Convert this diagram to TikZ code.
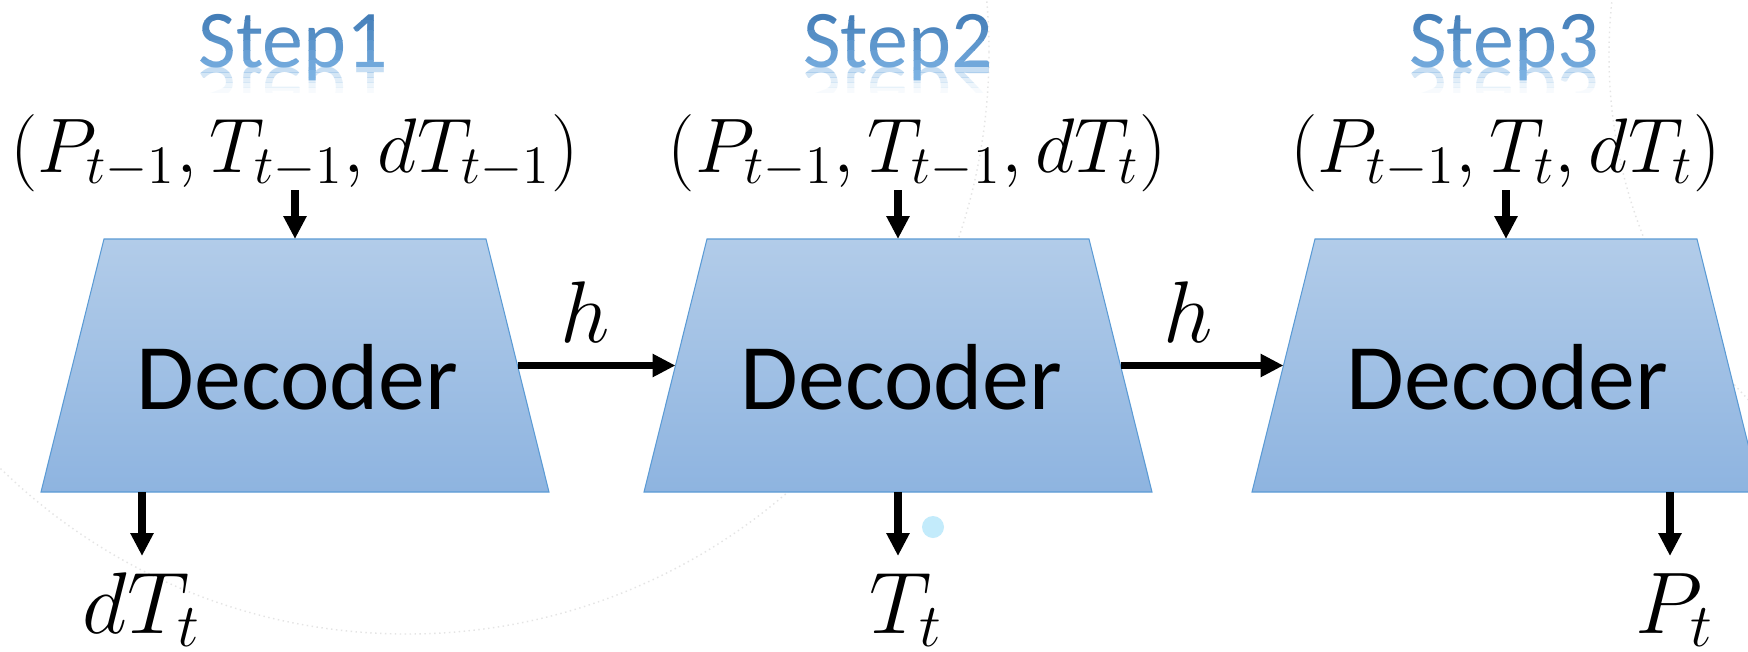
\RequirePackage{fix-cm}
\documentclass[tikz,border=0pt]{standalone}
\usepackage{fontspec}
\usepackage{graphicx}
\newfontfamily\calib{Carlito}
\usetikzlibrary{arrows.meta,calc}

\definecolor{dectop}{HTML}{B2CCE9}
\definecolor{decbot}{HTML}{8EB4E0}
\definecolor{decline}{HTML}{5B9BD5}
\definecolor{stepdark}{HTML}{3A74B0}
\definecolor{steplight}{HTML}{7BB2E3}
\definecolor{dotblue}{HTML}{C3EBFB}
\definecolor{arcgray}{HTML}{E4E4E4}

\tikzset{
  decoder/.style={minimum width=5.08cm, minimum height=2.53cm, inner sep=0pt, outer sep=0pt},
  decshape/.style={draw=decline, line width=0.3pt, top color=dectop, bottom color=decbot},
  dectext/.style={anchor=base, inner sep=0pt, font=\calib\fontsize{26.7}{30}\selectfont},
  flow/.style={line width=2pt, -{Triangle[length=0.23cm,width=0.22cm]}},
  tuple/.style={anchor=base, inner sep=0pt, font=\fontsize{22}{26}\selectfont},
  outlabel/.style={anchor=base, inner sep=0pt, font=\fontsize{24.9}{29}\selectfont},
  steptext/.style={anchor=base, inner sep=0pt, font=\calib\fontsize{23.3}{28}\selectfont},
  bgarc/.style={draw=arcgray, line width=0.4pt, densely dotted},
}

% Step heading: vertical colour gradient plus a fading mirror image below the baseline
\newcommand\steplabel[3]{%
  \foreach \k/\op in {0/0.42,1/0.32,2/0.22,3/0.13,4/0.06}{
    \begin{scope}
      \clip (#2-1.5,-0.67-\k*0.05) rectangle (#2+1.5,-0.72-\k*0.05);
      \node[steptext, text=steplight, opacity=\op, text opacity=\op] (#1r\k) at (#2,-0.67)
        {\scalebox{1}[-1]{#3}};
    \end{scope}}
  \foreach \k in {0,...,8}{
    \pgfmathsetmacro\pct{max(0,100-\k*14)}
    \begin{scope}
      \clip (#2-1.5,-\k*0.1) rectangle (#2+1.5,-\k*0.1-0.1);
      \node[steptext, text=stepdark!\pct!steplight] (#1\k) at (#2,-0.67) {#3};
    \end{scope}}
}

% Trapezoid outline of a decoder block; the top edge is inset by 0.63cm on each side
\newcommand\decoderbody[1]{%
  \draw[decshape] (#1.south west) -- (#1.south east)
    -- ($(#1.north east)+(-0.63,0)$) -- ($(#1.north west)+(0.63,0)$) -- cycle;
  \coordinate (#1-l) at ($(#1.west)+(0.315,0)$);
  \coordinate (#1-r) at ($(#1.east)+(-0.315,0)$);
}

\begin{document}
\begin{tikzpicture}
  \useasboundingbox (0,0) rectangle (17.48,-6.52);
  \fill[white] (0,0) rectangle (17.48,-6.52);
  \clip (0,0) rectangle (17.48,-6.52);

  % faint background circles
  \draw[bgarc] (4.07,-0.52) circle (5.82);
  \draw[bgarc] (21.05,-0.55) circle (4.96);

  % headings
  \steplabel{sa}{2.935}{Step1}
  \steplabel{sb}{8.98}{Step2}
  \steplabel{sc}{15.04}{Step3}

  % decoder blocks
  \node[decoder] (d1) at (2.95,-3.655) {};
  \node[decoder] (d2) at (8.98,-3.655) {};
  \node[decoder] (d3) at (15.06,-3.655) {};
  \decoderbody{d1}
  \decoderbody{d2}
  \decoderbody{d3}
  \node[dectext] (t1) at ($(d1.center)+(0.025,-0.435)$) {Decoder};
  \node[dectext] (t2) at ($(d2.center)+(0.035,-0.435)$) {Decoder};
  \node[dectext] (t3) at ($(d3.center)+(0.015,-0.435)$) {Decoder};

  % inputs
  \node[tuple] (x1) at (2.945,-1.72) {$(P_{t-1},T_{t-1},dT_{t-1})$};
  \node[tuple] (x2) at (9.175,-1.72) {$(P_{t-1},T_{t-1},dT_{t})$};
  \node[tuple] (x3) at (15.055,-1.72) {$(P_{t-1},T_{t},dT_{t})$};
  \coordinate (i1) at ($(d1.north)+(0,0.49)$);
  \coordinate (i2) at ($(d2.north)+(0,0.49)$);
  \coordinate (i3) at ($(d3.north)+(0,0.49)$);
  \draw[flow] (i1) -- (d1.north);
  \draw[flow] (i2) -- (d2.north);
  \draw[flow] (i3) -- (d3.north);

  % hidden state passed between steps
  \draw[flow] (d1-r) -- (d2-l);
  \draw[flow] (d2-r) -- (d3-l);
  \node[outlabel] (h1) at (5.85,-3.42) {$h$};
  \node[outlabel] (h2) at (11.88,-3.42) {$h$};

  % outputs
  \coordinate (o1) at ($(d1.south)+(-1.53,0)$);
  \coordinate (o2) at (d2.south);
  \coordinate (o3) at ($(d3.south)+(1.64,0)$);
  \coordinate (e1) at ($(o1)+(0,-0.64)$);
  \coordinate (e2) at ($(o2)+(0,-0.64)$);
  \coordinate (e3) at ($(o3)+(0,-0.64)$);
  \draw[flow] (o1) -- (e1);
  \draw[flow] (o2) -- (e2);
  \draw[flow] (o3) -- (e3);
  \node[outlabel] (y1) at (1.42,-6.33) {$dT_t$};
  \node[outlabel] (y2) at (9.06,-6.33) {$T_t$};
  \node[outlabel] (y3) at (16.75,-6.33) {$P_t$};

  \fill[dotblue] (9.33,-5.27) circle (0.11);
\end{tikzpicture}
\end{document}
